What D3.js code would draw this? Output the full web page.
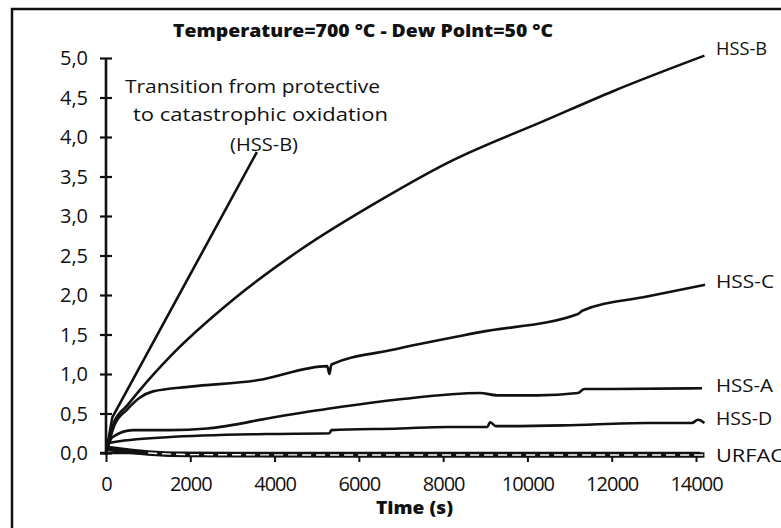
<!DOCTYPE html>
<meta charset="utf-8">
<script src="https://d3js.org/d3.v7.min.js"></script>
<style>
  body { margin: 0; background: #fff; }
  text { font-family: "Open Sans", sans-serif; fill: #111; }
</style>
<div id="chart"></div>
<script>
    // ---- data (time in s, mass gain) ----
    var xTicks = [0, 2000, 4000, 6000, 8000, 10000, 12000, 14000];
    var yTicks = [0, 0.5, 1, 1.5, 2, 2.5, 3, 3.5, 4, 4.5, 5];

    var hssB_t = [0, 200, 500, 807, 1519, 3014, 4604, 6573, 8092, 10465, 12031, 14200];
    var hssB_v = [0, 0.40, 0.60, 0.80, 1.22, 1.94, 2.57, 3.22, 3.67, 4.22, 4.58, 5.03];

    var hssC_t = [0, 200, 500, 800, 1115, 2000, 3580, 5250, 5300, 5350, 6740, 8875, 11200, 11300, 12838, 14214];
    var hssC_v = [0, 0.35, 0.55, 0.70, 0.78, 0.84, 0.92, 1.10, 1.00, 1.12, 1.30, 1.53, 1.76, 1.80, 1.98, 2.13];

    var hssA_t = [0, 150, 640, 1500, 2400, 4060, 5390, 6977, 8875, 9280, 10228, 11200, 11350, 12031, 14143];
    var hssA_v = [0, 0.20, 0.29, 0.29, 0.31, 0.46, 0.57, 0.68, 0.76, 0.73, 0.73, 0.76, 0.81, 0.81, 0.82];

    var hssD_t = [0, 100, 1440, 3810, 5300, 5350, 6977, 8092, 9050, 9113, 9250, 10850, 12838, 13900, 14050, 14200];
    var hssD_v = [0, 0.13, 0.20, 0.24, 0.25, 0.29, 0.31, 0.33, 0.33, 0.39, 0.34, 0.35, 0.38, 0.38, 0.42, 0.38];

    var urfac_t = [0, 300, 1000, 2000, 6000, 10000, 14200];
    var urfac_v = [0.06, 0.04, 0.0, -0.02, -0.025, -0.025, -0.025];

    // steep HSS-B transition trace, ends at the annotation
    var trans_t = [0, 150, 3580];
    var trans_v = [0, 0.45, 3.81];

    var labels = [
        { name: "HSS-B", y: 48, len: 51 },
        { name: "HSS-C", y: 281, len: 58 },
        { name: "HSS-A", y: 385, len: 57 },
        { name: "HSS-D", y: 418, len: 56 },
        { name: "URFAC", y: 455, len: 68 }
    ];

    function zip(t, v) { return t.map(function (d, i) { return [d, v[i]]; }); }

    var W = 781, H = 528;
    var svg = d3.select("#chart").append("svg")
        .attr("width", W).attr("height", H);

    // outer frame of the scanned figure
    svg.append("rect")
        .attr("x", 12).attr("y", 9)
        .attr("width", 800).attr("height", 560)
        .attr("fill", "none").attr("stroke", "#111").attr("stroke-width", 2.5);

    var x = d3.scaleLinear().domain([0, 14000]).range([106, 696]);
    var y = d3.scaleLinear().domain([0, 5]).range([453, 58]);

    // y axis with crossing ticks
    var yAxis = svg.append("g")
        .attr("transform", "translate(" + x(0) + ",0)")
        .call(d3.axisLeft(y).tickValues(yTicks).tickSize(6).tickPadding(12)
            .tickFormat(function (d) { return d.toFixed(1).replace(".", ","); }));
    yAxis.select(".domain").remove();
    yAxis.selectAll(".tick line").attr("x2", 6).attr("x1", -6)
        .attr("stroke", "#111").attr("stroke-width", 2.2);
    yAxis.selectAll(".tick text").style("font-size", "20px").attr("dy", "0.34em");
    yAxis.append("line").attr("y1", y(5)).attr("y2", y(0) + 2)
        .attr("stroke", "#111").attr("stroke-width", 2.6);

    // x axis
    var xAxis = svg.append("g")
        .attr("transform", "translate(0," + y(0) + ")")
        .call(d3.axisBottom(x).tickValues(xTicks).tickSize(9).tickPadding(15)
            .tickFormat(d3.format("d")));
    xAxis.select(".domain").remove();
    xAxis.selectAll(".tick line").attr("stroke", "#111").attr("stroke-width", 2);
    xAxis.selectAll(".tick text").style("font-size", "20px").style("letter-spacing", "-1px");
    xAxis.append("line").attr("x1", x(0) - 6).attr("x2", x(14100))
        .attr("stroke", "#111").attr("stroke-width", 2.4);

    var line = d3.line()
        .x(function (d) { return x(d[0]); })
        .y(function (d) { return y(d[1]); })
        .curve(d3.curveMonotoneX);

    var traces = [
        zip(hssB_t, hssB_v), zip(hssC_t, hssC_v),
        zip(hssA_t, hssA_v), zip(hssD_t, hssD_v)
    ];
    svg.append("g").selectAll("path").data(traces).enter().append("path")
        .attr("d", line)
        .attr("fill", "none").attr("stroke", "#111").attr("stroke-width", 2.6)
        .attr("stroke-linejoin", "round");

    svg.append("path")
        .attr("d", d3.line().x(function (d) { return x(d[0]); }).y(function (d) { return y(d[1]); })
            (zip(trans_t, trans_v)))
        .attr("fill", "none").attr("stroke", "#111").attr("stroke-width", 2.6)
        .attr("stroke-linejoin", "round");

    // URFAC: heavy black line with white dashes inside
    var urfac = zip(urfac_t, urfac_v);
    svg.append("path").attr("d", line(urfac))
        .attr("fill", "none").attr("stroke", "#111").attr("stroke-width", 5.5);
    svg.append("path").attr("d", line(urfac.slice(2)))
        .attr("fill", "none").attr("stroke", "#fff").attr("stroke-width", 1.4)
        .attr("stroke-dasharray", "9,5");

    // series labels
    svg.append("g").selectAll("text").data(labels).enter().append("text")
        .attr("x", 716).attr("y", function (d) { return d.y; })
        .attr("dy", "0.35em")
        .attr("textLength", function (d) { return d.len; })
        .attr("lengthAdjust", "spacingAndGlyphs")
        .style("font-size", "19px")
        .text(function (d) { return d.name; });

    // title
    svg.append("text")
        .attr("x", 173).attr("y", 37)
        .attr("textLength", 380).attr("lengthAdjust", "spacingAndGlyphs")
        .style("font-size", "17px").style("font-weight", "800")
        .text("Temperature=700 °C - Dew Point=50 °C");

    // annotation
    var note = [
        { t: "Transition from protective", x: 125, y: 93, len: 255 },
        { t: "to catastrophic oxidation", x: 133, y: 121, len: 255 },
        { t: "(HSS-B)", x: 230, y: 151, len: 68 }
    ];
    svg.append("g").selectAll("text").data(note).enter().append("text")
        .attr("x", function (d) { return d.x; }).attr("y", function (d) { return d.y; })
        .attr("textLength", function (d) { return d.len; })
        .attr("lengthAdjust", "spacingAndGlyphs")
        .style("font-size", "19px")
        .text(function (d) { return d.t; });

    // axis title
    svg.append("text")
        .attr("x", 376).attr("y", 514)
        .attr("textLength", 77).attr("lengthAdjust", "spacingAndGlyphs")
        .style("font-size", "18px").style("font-weight", "800")
        .text("Time (s)");
</script>
